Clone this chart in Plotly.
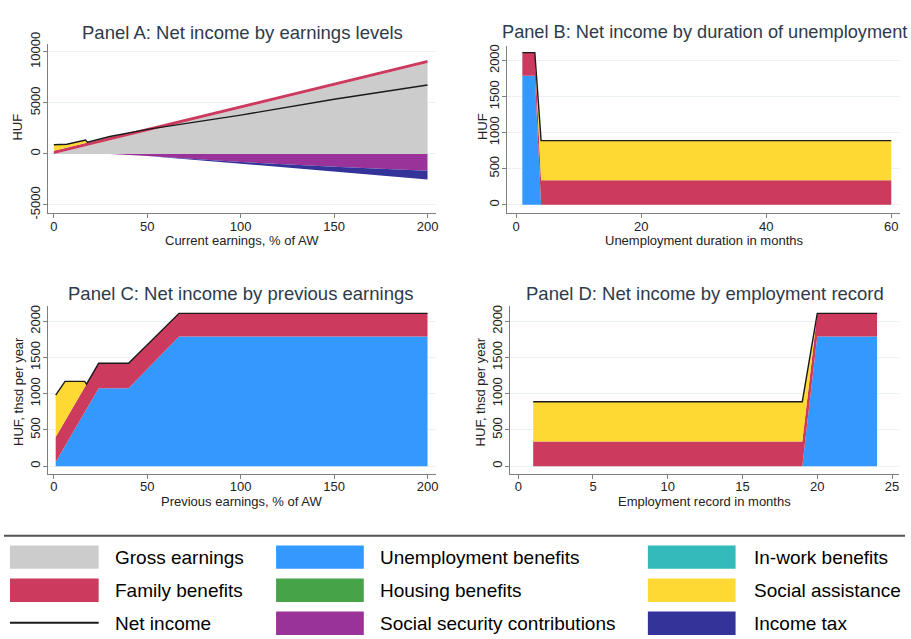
import plotly.graph_objects as go

# ---------------- Data ----------------
# Panel A: by current earnings (% of AW)
a_x = [0, 7, 17, 18, 30, 50, 100, 150, 200]
a_gross = [0, 310, 760, 800, 1340, 2230, 4450, 6680, 8900]
a_family = [300, 300, 300, 300, 300, 300, 300, 300, 300]
a_social = [590, 340, 300, 0, 0, 0, 0, 0, 0]
a_ssc = [0, 0, 0, 0, 0, -200, -800, -1250, -1650]
a_tax = [0, 0, 0, 0, 0, 0, -150, -450, -850]
a_net = [890, 950, 1360, 1150, 1700, 2400, 3800, 5350, 6750]

# Panel B: by unemployment duration (months)
b_x = [1, 2, 3, 4, 60]
b_unemp = [1790, 1790, 1790, 0, 0]
b_family = [320, 320, 320, 340, 340]
b_social = [0, 0, 0, 550, 550]
b_net = [2110, 2110, 2110, 890, 890]

# Panel C: by previous earnings (% of AW)
c_x = [1, 6, 16.5, 17.5, 24, 40, 67, 200]
c_unemp = [58, 279, 743, 787, 1075, 1075, 1790, 1790]
c_family = [345, 345, 345, 345, 345, 345, 320, 320]
c_social = [577, 546, 82, 0, 0, 0, 0, 0]
c_net = [980, 1170, 1170, 1132, 1420, 1420, 2110, 2110]

# Panel D: by employment record (months)
d_x = [1, 19, 20, 24]
d_unemp = [0, 0, 1790, 1790]
d_family = [340, 340, 320, 320]
d_social = [550, 550, 0, 0]
d_net = [890, 890, 2110, 2110]

titles = ["Panel A: Net income by earnings levels",
          "Panel B: Net income by duration of unemployment",
          "Panel C: Net income by previous earnings",
          "Panel D: Net income by employment record"]
x_titles = ["Current earnings, % of AW", "Unemployment duration in months",
            "Previous earnings, % of AW", "Employment record in months"]
y_titles = ["HUF", "HUF", "HUF, thsd per year", "HUF, thsd per year"]

a_yticks = [-5000, 0, 5000, 10000]
a_yticklabels = ["-5000", "0", "5000", "10000"]
b_yticks = [0, 500, 1000, 1500, 2000]
b_yticklabels = ["0", "500", "1000", "1500", "2000"]
a_xticks = [0, 50, 100, 150, 200]
b_xticks = [0, 20, 40, 60]
d_xticks = [0, 5, 10, 15, 20, 25]

legend_names = ["Gross earnings", "Unemployment benefits", "In-work benefits",
                "Family benefits", "Housing benefits", "Social assistance",
                "Net income", "Social security contributions", "Income tax"]
COL = {
    "Gross earnings": "#CCCCCC",
    "Unemployment benefits": "#3399FF",
    "In-work benefits": "#33BBBB",
    "Family benefits": "#CC3A5E",
    "Housing benefits": "#46A348",
    "Social assistance": "#FFD933",
    "Net income": "#1A1A1A",
    "Social security contributions": "#993399",
    "Income tax": "#333399",
}

W, H = 911, 639
FONT = "Liberation Sans, Arial, sans-serif"
TITLE_COL = "#2E3A4A"
TXT = "#222222"
AXIS_COL = "#7F7F7F"
GRID = "#EAF2F3"

fig = go.Figure()


def area(x, y, name, grp, xa, ya):
    fig.add_trace(go.Scatter(
        x=x, y=y, name=name, stackgroup=grp, mode="lines",
        line=dict(width=0), fillcolor=COL[name], showlegend=False,
        xaxis=xa, yaxis=ya, hoverinfo="x+y+name"))


def netline(x, y, xa, ya):
    fig.add_trace(go.Scatter(
        x=x, y=y, name="Net income", mode="lines",
        line=dict(color=COL["Net income"], width=1.4), showlegend=False,
        xaxis=xa, yaxis=ya))


# Panel A
area(a_x, a_gross, "Gross earnings", "A", "x", "y")
area(a_x, a_family, "Family benefits", "A", "x", "y")
area(a_x, a_social, "Social assistance", "A", "x", "y")
area(a_x, a_ssc, "Social security contributions", "An", "x", "y")
area(a_x, a_tax, "Income tax", "An", "x", "y")
netline(a_x, a_net, "x", "y")

# Panel B
area(b_x, b_unemp, "Unemployment benefits", "B", "x2", "y2")
area(b_x, b_family, "Family benefits", "B", "x2", "y2")
area(b_x, b_social, "Social assistance", "B", "x2", "y2")
netline(b_x, b_net, "x2", "y2")

# Panel C
area(c_x, c_unemp, "Unemployment benefits", "C", "x3", "y3")
area(c_x, c_family, "Family benefits", "C", "x3", "y3")
area(c_x, c_social, "Social assistance", "C", "x3", "y3")
netline(c_x, c_net, "x3", "y3")

# Panel D
area(d_x, d_unemp, "Unemployment benefits", "D", "x4", "y4")
area(d_x, d_family, "Family benefits", "D", "x4", "y4")
area(d_x, d_social, "Social assistance", "D", "x4", "y4")
netline(d_x, d_net, "x4", "y4")


def px_x(p):
    return p / W


def px_y(p):
    return 1 - p / H


def xaxis(dom, rng, ticks):
    return dict(domain=dom, range=rng, tickvals=ticks, showgrid=False,
                zeroline=False, showline=True, linecolor=AXIS_COL, linewidth=1.2,
                ticks="outside", ticklen=4, tickcolor=AXIS_COL, ticklabelstandoff=-3,
                tickfont=dict(size=13, color=TXT, family=FONT))


def yaxis(dom, rng, ticks, labels, anchor):
    return dict(domain=dom, range=rng, tickvals=ticks, ticktext=labels, showgrid=True,
                gridcolor=GRID, gridwidth=1, zeroline=False, showline=True,
                linecolor=AXIS_COL, linewidth=1.2, ticks="outside", ticklen=4,
                tickcolor=AXIS_COL, tickangle=-90, anchor=anchor, ticklabelstandoff=-2,
                tickfont=dict(size=13, color=TXT, family=FONT))


dA_x = [px_x(48), px_x(437)]
dB_x = [px_x(509), px_x(903)]
dD_x = [px_x(511.7), px_x(901.7)]
dTop = [px_y(207), px_y(33)]
dTopB = [px_y(206.7), px_y(35)]
dBot = [px_y(475), px_y(302.7)]

fig.update_layout(
    xaxis=dict(xaxis(dA_x, [-3.2, 204.3], a_xticks), anchor="y"),
    yaxis=yaxis(dTop, [-5810, 10760], a_yticks, a_yticklabels, "x"),
    xaxis2=dict(xaxis(dB_x, [-1.4, 61.4], b_xticks), anchor="y2"),
    yaxis2=yaxis(dTopB, [-113, 2202], b_yticks, b_yticklabels, "x2"),
    xaxis3=dict(xaxis(dA_x, [-3.2, 204.3], a_xticks), anchor="y3"),
    yaxis3=yaxis(dBot, [-103, 2209], b_yticks, b_yticklabels, "x3"),
    xaxis4=dict(xaxis(dD_x, [-0.55, 25.45], d_xticks), anchor="y4"),
    yaxis4=yaxis(dBot, [-103, 2209], b_yticks, b_yticklabels, "x4"),
)

# Panel titles
title_pos = [(243, 21, "center", 18.5), (502, 21, "left", 18.2),
             (242, 290, "center", 18.5), (707, 290, "center", 18.5)]
for t, (tx, ty, anc, fs) in zip(titles, title_pos):
    fig.add_annotation(text=t, x=px_x(tx), y=px_y(ty), xref="paper", yref="paper",
                       xanchor=anc, yanchor="middle", showarrow=False,
                       font=dict(size=fs, color=TITLE_COL, family=FONT))

# Axis titles
xt_pos = [(242.5, 235), (706, 235), (242.5, 504), (707, 504)]
for t, (tx, ty) in zip(x_titles, xt_pos):
    fig.add_annotation(text=t, x=px_x(tx), y=px_y(ty), xref="paper", yref="paper",
                       xanchor="center", yanchor="middle", showarrow=False,
                       font=dict(size=13, color=TXT, family=FONT))
yt_pos = [(18, 118), (484, 118), (18, 390), (483, 391)]
for t, (tx, ty) in zip(y_titles, yt_pos):
    fig.add_annotation(text=t, x=px_x(tx), y=px_y(ty), xref="paper", yref="paper",
                       xanchor="center", yanchor="middle", showarrow=False, textangle=-90,
                       font=dict(size=13, color=TXT, family=FONT))

# Legend (drawn manually: big swatches, 3 columns x 3 rows)
shapes = [dict(type="line", xref="paper", yref="paper", x0=px_x(4), x1=px_x(908),
               y0=px_y(539), y1=px_y(539), line=dict(color="#555555", width=2))]
col_sw = [(10, 99, 113), (277, 365, 379), (650, 738, 754)]
row_y = [(549, 573), (583, 607), (617, 641)]
for i, name in enumerate(legend_names):
    r, c = divmod(i, 3)
    sx0, sx1, tx = col_sw[c]
    sy0, sy1 = row_y[r]
    if name == "Net income":
        ym = (sy0 + sy1) / 2 - 0.5
        shapes.append(dict(type="line", xref="paper", yref="paper",
                           x0=px_x(sx0), x1=px_x(sx1), y0=px_y(ym), y1=px_y(ym),
                           line=dict(color=COL[name], width=2)))
    else:
        shapes.append(dict(type="rect", xref="paper", yref="paper",
                           x0=px_x(sx0), x1=px_x(sx1), y0=px_y(sy1), y1=px_y(sy0),
                           fillcolor=COL[name], line=dict(width=0)))
    fig.add_annotation(text=name, x=px_x(tx), y=px_y((sy0 + sy1) / 2), xref="paper",
                       yref="paper", xanchor="left", yanchor="middle", showarrow=False,
                       font=dict(size=19, color="#000000", family=FONT))

fig.update_layout(
    shapes=shapes,
    width=W, height=H, autosize=False,
    margin=dict(l=0, r=0, t=0, b=0),
    paper_bgcolor="white", plot_bgcolor="white",
    showlegend=False,
    font=dict(family=FONT, color=TXT),
)

fig.write_html("out.html", config={"displayModeBar": False},
               post_script="document.body.style.margin='0';document.body.style.overflow='hidden';")
